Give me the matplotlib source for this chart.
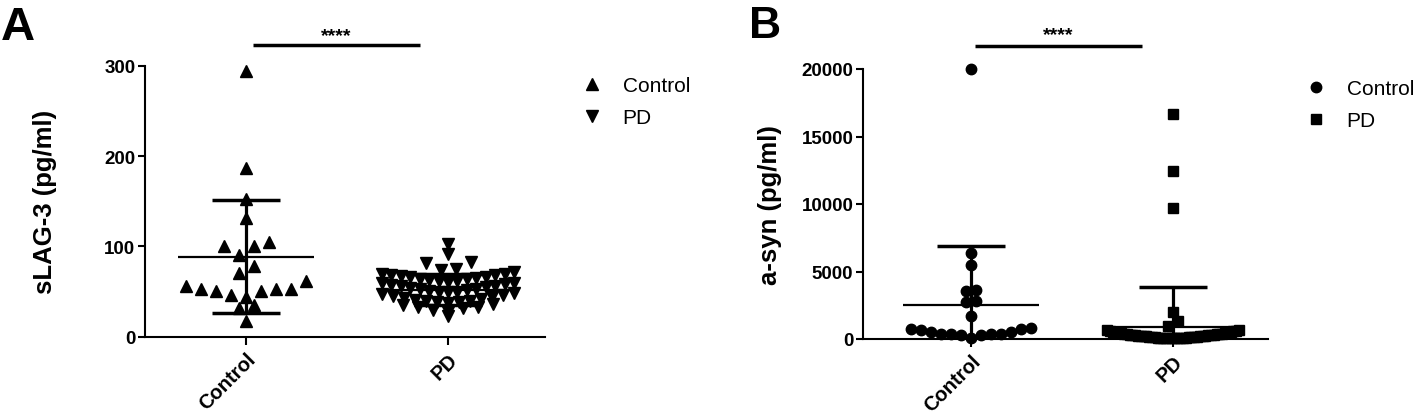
import numpy as np
import matplotlib
matplotlib.use("Agg")
import matplotlib.pyplot as plt
from matplotlib.lines import Line2D

plt.rcParams['font.family'] = ['Liberation Sans', 'DejaVu Sans']

# ---------------- data ----------------
categories = ["Control", "PD"]

slag3_control = [295, 187, 153, 131, 105, 100, 101, 91, 78, 71, 56, 53, 51, 46,
                 44, 51, 53, 53, 62, 32, 35, 17]
slag3_pd = [103, 92, 83, 82, 75, 74,
            72, 70, 69, 68, 68, 67, 66, 66, 65, 64, 64, 63, 62, 62, 61, 60,
            59, 58, 57, 56, 56, 55, 54, 53, 53, 52, 51, 50, 49, 49, 48, 47,
            46, 45, 44, 43, 42, 41, 40, 40, 39, 38,
            37, 36, 35, 33, 33, 32, 30, 27, 23]
slag3_mean = [88.8, 52.0]
slag3_sd = [62.8, 17.0]

asyn_control = [20000, 6350, 5500, 3530, 3630, 2760, 2840, 1730,
                790, 720, 520, 400, 360, 330, 110, 280, 360, 400, 520, 650, 750]
asyn_pd = [16670, 12470, 9680, 2020, 1360, 990,
           690, 640, 610, 580, 560, 530, 510, 490, 470, 450, 430, 420, 400,
           390, 370, 350, 340, 330, 310, 300, 290, 280, 270, 255, 240, 230,
           220, 210, 200, 190, 180, 170, 160, 150, 140, 130, 120, 110, 100,
           90, 85, 80, 70, 60, 55, 50, 45, 40]
asyn_mean = [2500, 910]
asyn_sd = [4390, 2950]

yticks_a = [0, 100, 200, 300]
yticks_b = [0, 5000, 10000, 15000, 20000]

# ---------------- helpers ----------------
def swarm_offsets(ax, values, bin_px, step_px, max_half_px):
    """Row-based scatter-dot layout (GraphPad-like): values binned into rows,
    each row spread centre-outwards, compressed to a maximum width."""
    vals = np.asarray(values, dtype=float)
    p0 = ax.transData.transform((0, 0))
    p1 = ax.transData.transform((1, 0))
    py = ax.transData.transform((0, 1))[1] - p0[1]
    px_per_x = p1[0] - p0[0]
    bins = np.floor(vals * py / bin_px)
    offs = np.zeros(len(vals))
    for b in np.unique(bins):
        idx = np.where(bins == b)[0]
        idx = idx[np.argsort(vals[idx])]
        n = len(idx)
        step = step_px
        if n > 1 and (n - 1) * step_px / 2 > max_half_px:
            step = 2 * max_half_px / (n - 1)
        for k, i in enumerate(idx):
            if n % 2 == 1:
                slot = 0 if k == 0 else ((k + 1) // 2) * (-1 if k % 2 else 1)
            else:
                slot = (k // 2 + 0.5) * (-1 if k % 2 == 0 else 1)
            offs[i] = slot * step / px_per_x
    return offs


def draw_errbar(ax, x, mean, sd):
    ax.plot([x - 0.335, x + 0.335], [mean, mean], color='black', lw=1.6,
            solid_capstyle='butt', zorder=4)
    ax.plot([x, x], [mean - sd, mean + sd], color='black', lw=2.3,
            solid_capstyle='butt', zorder=4)
    for yv in (mean - sd, mean + sd):
        ax.plot([x - 0.167, x + 0.167], [yv, yv], color='black', lw=2.5,
                solid_capstyle='butt', zorder=4)


def style_axes(ax, yticks, ylim, xlim):
    ax.set_xlim(*xlim)
    ax.set_ylim(*ylim)
    ax.set_yticks(yticks)
    ax.set_xticks([0, 1])
    ax.set_xticklabels(categories, rotation=45, ha='right',
                       rotation_mode='anchor', fontsize=14.5, fontweight='bold')
    for lab in ax.get_yticklabels():
        lab.set_fontsize(13.5)
        lab.set_fontweight('bold')
    for s in ('top', 'right'):
        ax.spines[s].set_visible(False)
    for s in ('left', 'bottom'):
        ax.spines[s].set_linewidth(1.5)
    ax.tick_params(axis='y', length=5, width=1.5, pad=2)
    ax.tick_params(axis='x', length=6, width=1.5, pad=3)


# ---------------- figure ----------------
fig = plt.figure(figsize=(14.18, 4.14), dpi=100)
W, H = 1418, 414

axA = fig.add_axes([145 / W, 1 - 337.7 / H, 400 / W, (337.7 - 67) / H])
axB = fig.add_axes([863 / W, 1 - 340 / H, 405 / W, (340 - 70) / H])

style_axes(axA, yticks_a, (0, 300), (-0.5, 1.48))
style_axes(axB, yticks_b, (0, 20000), (-0.535, 1.47))

# Panel A
offA0 = swarm_offsets(axA, slag3_control, 19, 15, 62)
offA1 = swarm_offsets(axA, slag3_pd, 11, 15, 66)
axA.plot(0 + offA0, slag3_control, ls='none', marker='^', ms=8.5,
         color='black', clip_on=False, zorder=3)
axA.plot(1 + offA1, slag3_pd, ls='none', marker='v', ms=8.5,
         color='black', clip_on=False, zorder=3)
for i in range(2):
    draw_errbar(axA, i, slag3_mean[i], slag3_sd[i])
axA.set_ylabel('sLAG-3 (pg/ml)', fontsize=18.5, fontweight='bold')
axA.yaxis.set_label_coords(-0.22, 0.5)

# Panel B
offB0 = swarm_offsets(axB, asyn_control, 11, 10, 62)
offB1 = swarm_offsets(axB, asyn_pd, 11, 10, 66)
axB.plot(0 + offB0, asyn_control, ls='none', marker='o', ms=7.5,
         color='black', clip_on=False, zorder=3)
axB.plot(1 + offB1, asyn_pd, ls='none', marker='s', ms=7,
         color='black', clip_on=False, zorder=3)
for i in range(2):
    draw_errbar(axB, i, asyn_mean[i], asyn_sd[i])
axB.set_ylabel('a-syn (pg/ml)', fontsize=18.5, fontweight='bold')
axB.yaxis.set_label_coords(-0.2, 0.5)

# significance bars
axA.plot([0.033, 0.861], [323.7, 323.7], color='black', lw=2.5,
         solid_capstyle='butt', clip_on=False)
axA.text(0.447, 334, '****', ha='center', va='center', fontsize=14,
         fontweight='bold')
axB.plot([0.02, 0.847], [21700, 21700], color='black', lw=2.5,
         solid_capstyle='butt', clip_on=False)
axB.text(0.433, 22550, '****', ha='center', va='center', fontsize=14,
         fontweight='bold')

# legends
legA = [Line2D([], [], ls='none', marker='^', ms=8, color='black'),
        Line2D([], [], ls='none', marker='v', ms=8, color='black')]
axA.legend(legA, categories, loc='upper left',
           bbox_to_anchor=(582 / W, 1 - 77 / H), bbox_transform=fig.transFigure,
           frameon=False, fontsize=15, handlelength=1.0, handletextpad=0.95,
           labelspacing=0.64, borderpad=0, borderaxespad=0)
legB = [Line2D([], [], ls='none', marker='o', ms=7.5, color='black'),
        Line2D([], [], ls='none', marker='s', ms=7, color='black')]
axB.legend(legB, categories, loc='upper left',
           bbox_to_anchor=(1306 / W, 1 - 80 / H), bbox_transform=fig.transFigure,
           frameon=False, fontsize=15, handlelength=1.0, handletextpad=0.95,
           labelspacing=0.64, borderpad=0, borderaxespad=0)

# panel letters
fig.text(1 / W, 1 - 40 / H, 'A', fontsize=34, fontweight='bold', va='baseline')
fig.text(749 / W, 1 - 38 / H, 'B', fontsize=32, fontweight='bold', va='baseline')

fig.savefig('out.png', dpi=100)
